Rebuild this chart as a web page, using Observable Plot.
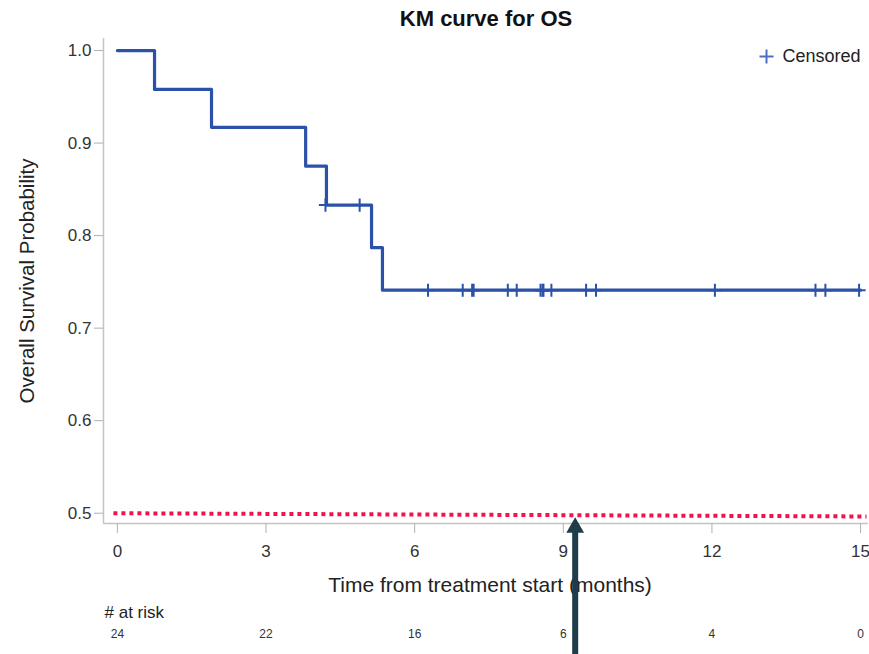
<!DOCTYPE html>
<html><head><meta charset="utf-8">
<script src="https://cdn.jsdelivr.net/npm/d3@7"></script>
<script src="https://cdn.jsdelivr.net/npm/@observablehq/plot@0.6"></script>
<style>
body{margin:0;background:#fff;}
#chart svg{display:block;font-family:"Liberation Sans",Arial,Helvetica,sans-serif;}
</style>
</head><body><div id="chart"></div>
<script>
// KM step data (time in months, survival probability)
const stepTimes = [0, 0.75, 1.9, 3.8, 4.22, 5.13, 5.35, 15];
const stepSurv  = [1.0, 0.958, 0.917, 0.875, 0.833, 0.787, 0.741, 0.741];
// Censored observations
const censorTimes = [4.2, 4.89, 6.27, 6.97, 7.16, 7.19, 7.88, 8.06, 8.54, 8.58, 8.60, 8.76, 9.46, 9.66, 12.06, 14.09, 14.29, 14.97];
const censorSurv  = [0.833, 0.833, 0.741, 0.741, 0.741, 0.741, 0.741, 0.741, 0.741, 0.741, 0.741, 0.741, 0.741, 0.741, 0.741, 0.741, 0.741, 0.741];
// Axes
const xTicks = [0, 3, 6, 9, 12, 15];
const yTicks = [0.5, 0.6, 0.7, 0.8, 0.9, 1.0];
const xDomain = [-0.28, 15.16];
const yDomain = [0.4889, 1.013];
// Number at risk table
const atRiskTimes  = [0, 3, 6, 9, 12, 15];
const atRiskCounts = [24, 22, 16, 6, 4, 0];
// Annotations: dotted 50% reference line and arrow
const refLineX = [-0.08, 15.12];
const refLineY = [0.5, 0.4965];
const arrowX = 9.24;
const arrowTipY = 0.4845;   // triangle head centre
const arrowShaftY = [0.3460, 0.482];

const steps = stepTimes.map((t, i) => ({t, s: stepSurv[i]}));
const censored = censorTimes.map((t, i) => ({t, s: censorSurv[i]}));
const atRisk = atRiskTimes.map((t, i) => ({t, n: atRiskCounts[i]}));
const refLine = refLineX.map((x, i) => ({x, y: refLineY[i]}));

const blue = "#2b52a8";
const textColor = "#333";

const chart = Plot.plot({
  width: 869,
  height: 654,
  marginTop: 38,
  marginBottom: 131,
  marginLeft: 103,
  marginRight: 1,
  style: {fontFamily: '"Liberation Sans", Arial, sans-serif', background: "#fff"},
  x: {domain: xDomain, axis: null},
  y: {domain: yDomain, axis: null},
  marks: [
    // axis lines
    Plot.ruleX([xDomain[0]], {stroke: "#c4c4c4", strokeWidth: 1.5}),
    Plot.ruleY([yDomain[0]], {stroke: "#c4c4c4", strokeWidth: 1.5}),
    Plot.axisX({ticks: xTicks, tickSize: 10, tickPadding: 11, fontSize: 17, stroke: "#b0b0b0", color: textColor, tickFormat: d3.format("d"), label: null}),
    Plot.axisY({ticks: yTicks, tickSize: 9, tickPadding: 3, fontSize: 17, stroke: "#b0b0b0", color: textColor, tickFormat: d3.format(".1f"), label: null}),
    // red dotted reference line
    Plot.line(refLine, {x: "x", y: "y", stroke: "#f2124c", strokeWidth: 4, strokeDasharray: "4,4", strokeLinecap: "butt"}),
    // KM step curve
    Plot.line(steps, {x: "t", y: "s", curve: "step-after", stroke: blue, strokeWidth: 3.2}),
    // censor marks
    Plot.dot(censored, {x: "t", y: "s", symbol: "plus", r: 4.3, stroke: blue, strokeWidth: 2}),
    // legend
    Plot.dot([0], {frameAnchor: "top-right", dx: -102, dy: 18, symbol: "plus", r: 4.6, stroke: "#4a6fc4", strokeWidth: 2}),
    Plot.text(["Censored"], {frameAnchor: "top-right", dx: -86, dy: 18, textAnchor: "start", lineAnchor: "middle", fontSize: 18, fill: "#222"}),
    // title
    Plot.text(["KM curve for OS"], {frameAnchor: "top", dy: -20, lineAnchor: "middle", fontSize: 22, fontWeight: "bold", fill: "#111"}),
    // axis titles
    Plot.text(["Overall Survival Probability"], {frameAnchor: "left", dx: -76, rotate: -90, textAnchor: "middle", lineAnchor: "middle", fontSize: 20.5, fill: "#222"}),
    Plot.text(["Time from treatment start (months)"], {frameAnchor: "bottom", dx: 4, dy: 62, lineAnchor: "middle", fontSize: 21, fill: "#222"}),
    // at risk table
    Plot.text(["# at risk"], {frameAnchor: "bottom-left", dx: 1, dy: 89, textAnchor: "start", lineAnchor: "middle", fontSize: 17, fill: "#222"}),
    Plot.text(atRisk, {x: "t", text: "n", frameAnchor: "bottom", dy: 111, lineAnchor: "middle", fontSize: 12, fill: "#333"}),
    // arrow annotation
    Plot.ruleX([arrowX], {y1: arrowShaftY[0], y2: arrowShaftY[1], stroke: "#1e3c4a", strokeWidth: 6}),
    Plot.dot([arrowX], {x: d => d, y: () => arrowTipY, symbol: "triangle", r: 6.6, fill: "#1e3c4a", stroke: "none"})
  ]
});
document.getElementById("chart").appendChild(chart);
</script>
</body></html>
